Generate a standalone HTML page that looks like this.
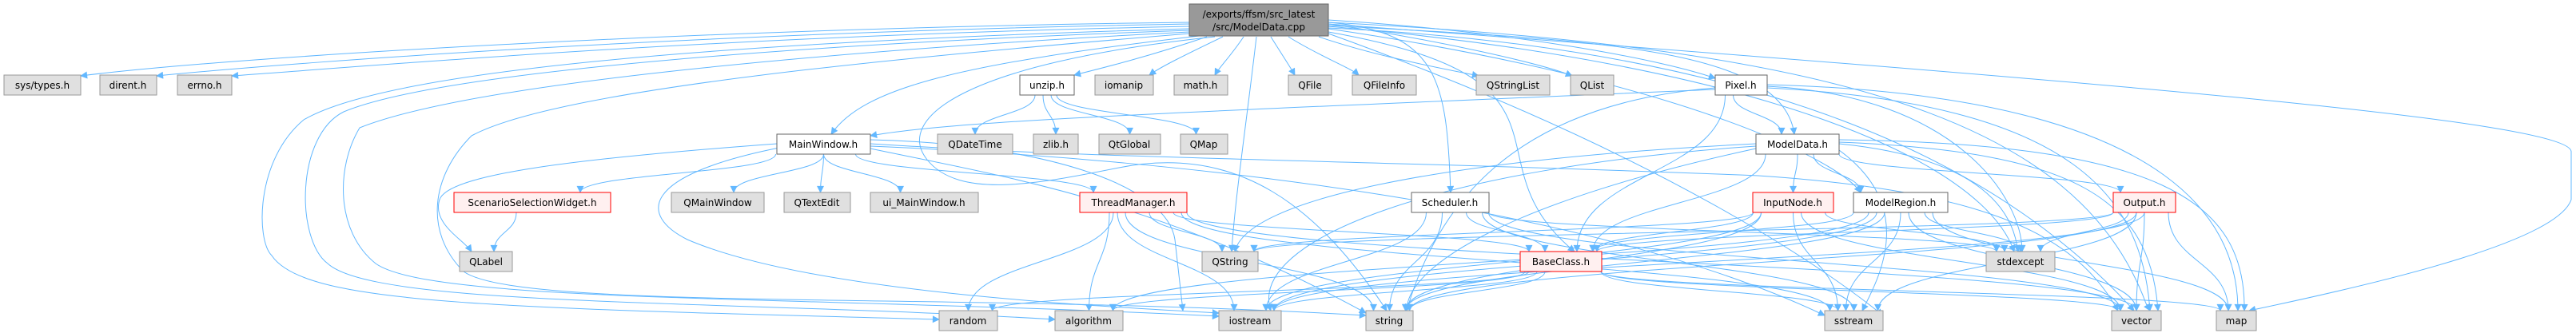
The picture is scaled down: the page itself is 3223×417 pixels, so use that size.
<!DOCTYPE html>
<html><head><meta charset="utf-8">
<style>
html,body{margin:0;padding:0;background:#fff;}
svg{display:block;}
text{font-family:"DejaVu Sans","Liberation Sans",sans-serif;font-size:12px;fill:#000;text-anchor:middle;}
.g{fill:#e0e0e0;stroke:#999;stroke-width:1;}
.w{fill:#fff;stroke:#666;stroke-width:1;}
.r{fill:#fff0f0;stroke:#f00;stroke-width:1;}
.root{fill:#999;stroke:#666;stroke-width:1;}
.e{fill:none;stroke:#63b8ff;stroke-width:1;}
</style></head><body>
<svg id="s" width="3223" height="417" viewBox="0 0 3223 417" xmlns="http://www.w3.org/2000/svg">
<defs><marker id="a" viewBox="0 0 10 10" refX="9" refY="5" markerWidth="10" markerHeight="9" markerUnits="userSpaceOnUse" orient="auto"><path d="M0,0 L10,5 L0,10 z" fill="#63b8ff"/></marker></defs>
<g id="edges"></g>
<g id="nodes">
<rect id="root" class="root" x="1488" y="5" width="174" height="40"/><text x="1575" y="22">/exports/ffsm/src_latest</text><text x="1575" y="38">/src/ModelData.cpp</text>
<rect id="systypes" class="g" x="5" y="94" width="96" height="25"/><text x="53" y="111">sys/types.h</text>
<rect id="dirent" class="g" x="125" y="94" width="71" height="25"/><text x="160" y="111">dirent.h</text>
<rect id="errno" class="g" x="222" y="94" width="68" height="25"/><text x="256" y="111">errno.h</text>
<rect id="unzip" class="w" x="1276" y="94" width="68" height="25"/><text x="1310" y="111">unzip.h</text>
<rect id="iomanip" class="g" x="1370" y="94" width="73" height="25"/><text x="1406" y="111">iomanip</text>
<rect id="math" class="g" x="1469" y="94" width="67" height="25"/><text x="1502" y="111">math.h</text>
<rect id="QFile" class="g" x="1612" y="94" width="54" height="25"/><text x="1639" y="111">QFile</text>
<rect id="QFileInfo" class="g" x="1692" y="94" width="80" height="25"/><text x="1732" y="111">QFileInfo</text>
<rect id="QStringList" class="g" x="1847" y="94" width="92" height="25"/><text x="1893" y="111">QStringList</text>
<rect id="QList" class="g" x="1965" y="94" width="54" height="25"/><text x="1992" y="111">QList</text>
<rect id="Pixel" class="w" x="2146" y="94" width="65" height="25"/><text x="2178" y="111">Pixel.h</text>
<rect id="MainWindow" class="w" x="972" y="168" width="117" height="25"/><text x="1030" y="185">MainWindow.h</text>
<rect id="QDateTime" class="g" x="1173" y="168" width="94" height="25"/><text x="1220" y="185">QDateTime</text>
<rect id="zlib" class="g" x="1293" y="168" width="56" height="25"/><text x="1321" y="185">zlib.h</text>
<rect id="QtGlobal" class="g" x="1375" y="168" width="77" height="25"/><text x="1413" y="185">QtGlobal</text>
<rect id="QMap" class="g" x="1477" y="168" width="59" height="25"/><text x="1506" y="185">QMap</text>
<rect id="ModelData" class="w" x="2197" y="168" width="104" height="25"/><text x="2249" y="185">ModelData.h</text>
<rect id="SSW" class="r" x="568" y="241" width="196" height="25"/><text x="666" y="258">ScenarioSelectionWidget.h</text>
<rect id="QMainWindow" class="g" x="840" y="241" width="116" height="25"/><text x="898" y="258">QMainWindow</text>
<rect id="QTextEdit" class="g" x="981" y="241" width="83" height="25"/><text x="1022" y="258">QTextEdit</text>
<rect id="uiMW" class="g" x="1089" y="241" width="135" height="25"/><text x="1156" y="258">ui_MainWindow.h</text>
<rect id="TM" class="r" x="1351" y="241" width="134" height="25"/><text x="1418" y="258">ThreadManager.h</text>
<rect id="Scheduler" class="w" x="1766" y="241" width="97" height="25"/><text x="1814" y="258">Scheduler.h</text>
<rect id="InputNode" class="r" x="2193" y="241" width="101" height="25"/><text x="2243" y="258">InputNode.h</text>
<rect id="ModelRegion" class="w" x="2319" y="241" width="118" height="25"/><text x="2378" y="258">ModelRegion.h</text>
<rect id="Output" class="r" x="2644" y="241" width="78" height="25"/><text x="2683" y="258">Output.h</text>
<rect id="QLabel" class="g" x="575" y="315" width="66" height="25"/><text x="608" y="332">QLabel</text>
<rect id="QString" class="g" x="1504" y="315" width="70" height="25"/><text x="1539" y="332">QString</text>
<rect id="BaseClass" class="r" x="1902" y="315" width="102" height="25"/><text x="1953" y="332">BaseClass.h</text>
<rect id="stdexcept" class="g" x="2485" y="315" width="86" height="25"/><text x="2528" y="332">stdexcept</text>
<rect id="random" class="g" x="1175" y="389" width="73" height="25"/><text x="1211" y="406">random</text>
<rect id="algorithm" class="g" x="1320" y="389" width="85" height="25"/><text x="1362" y="406">algorithm</text>
<rect id="iostream" class="g" x="1525" y="389" width="78" height="25"/><text x="1564" y="406">iostream</text>
<rect id="string" class="g" x="1709" y="389" width="59" height="25"/><text x="1738" y="406">string</text>
<rect id="sstream" class="g" x="2283" y="389" width="73" height="25"/><text x="2319" y="406">sstream</text>
<rect id="vector" class="g" x="2642" y="389" width="62" height="25"/><text x="2673" y="406">vector</text>
<rect id="map" class="g" x="2773" y="389" width="50" height="25"/><text x="2798" y="406">map</text>
</g>
</svg>
<script>
(function(){
var g=document.getElementById('edges');
function R(id){var r=document.getElementById(id);var x=+r.getAttribute('x'),y=+r.getAttribute('y'),w=+r.getAttribute('width'),h=+r.getAttribute('height');return {x:x,y:y,w:w,h:h,cx:x+w/2,b:y+h};}
function P(d){var p=document.createElementNS('http://www.w3.org/2000/svg','path');p.setAttribute('d',d);p.setAttribute('class','e');p.setAttribute('marker-end','url(#a)');g.appendChild(p);}
function E(f,t,fo,to){var a=R(f),b=R(t);var sx=a.cx+(fo||0),sy=a.b,tx=b.cx+(to||0),ty=b.y;
 if(b.y<=a.y+a.h){ // same row or above: side entry
  P('M'+sx+','+(a.y+a.h/2)+' C'+sx+','+(a.y+a.h/2)+' '+tx+','+ty+' '+tx+','+ty);return;}
 var dy=ty-sy;P('M'+sx+','+sy+' C'+sx+','+(sy+dy*0.5)+' '+tx+','+(ty-dy*0.5)+' '+tx+','+ty);}
// root long curves left
P('M1488,28 C900,35 300,70 101,95');
P('M1488,30 C900,40 400,75 196,95');
P('M1488,33 C900,45 500,80 290,95');
P('M1488,36 C1000,50 500,80 380,150 C320,200 320,300 340,320 C380,380 600,385 1175,400');
P('M1488,38 C1000,55 550,90 430,140 C370,170 370,300 410,330 C470,385 900,375 1320,400');
P('M1488,40 C1100,60 600,100 450,160 C420,210 420,290 470,330 C540,380 1000,370 1525,396');
P('M1488,42 C1150,70 700,110 590,170 C540,220 530,290 580,340 C650,390 1200,365 1709,395');
P('M1500,45 C1200,80 1080,110 1040,168');
P('M1510,46 C1440,70 1380,85 1344,94');
P('M1530,46 C1480,70 1450,85 1438,94');
P('M1556,46 C1540,70 1525,85 1520,94');
P('M1590,46 C1605,70 1615,85 1620,94');
P('M1612,46 C1650,70 1690,85 1700,94');
P('M1650,46 C1720,70 1800,85 1850,95');
P('M1662,30 C1800,50 1930,80 1967,95');
P('M1662,25 C1900,40 2080,75 2146,98');
P('M1662,32 C2000,50 2230,60 2245,168');
P('M1662,28 C1800,40 1810,100 1815,241');
P('M1572,46 C1560,150 1545,250 1541,315');
P('M1520,46 C1200,80 1120,150 1160,200 C1200,250 1300,230 1400,210 C1550,180 1650,260 1735,389');
P('M1662,30 C2600,100 3217,150 3217,190 L3217,250 C3200,300 3000,350 2814,389');
P('M1662,28 C2300,60 2600,150 2685,380 L2690,389');
P('M1662,35 C2200,60 2500,200 2670,389');
P('M1662,40 C2000,100 1830,200 1970,315');
P('M1662,36 C2100,100 2300,200 2328,241');
P('M1662,33 C2200,80 2480,200 2520,315');
P('M1662,42 C2100,200 2300,350 2356,395');
// MainWindow
E('MainWindow','SSW',-60,60);E('MainWindow','QMainWindow',0,20);E('MainWindow','QTextEdit',0,4);E('MainWindow','uiMW',0,-30);E('MainWindow','TM',40,-50);
P('M972,180 C700,200 560,220 550,250 C540,280 580,300 590,315');
P('M975,185 C800,220 800,270 860,300 C1000,360 1300,380 1525,392');
P('M1089,186 C1250,220 1450,250 1709,392');
P('M1089,180 C1400,200 1700,200 2200,220 C2500,240 2600,300 2650,389');
P('M1089,175 C1300,180 1460,230 1470,300 L1480,389');
P('M1089,183 C1500,200 2000,260 2283,395');
E('SSW','QLabel',-20,10);
E('unzip','QDateTime',-15,0);E('unzip','zlib',-5,0);E('unzip','QtGlobal',5,0);E('unzip','QMap',12,-10);
// ThreadManager
E('TM','QString',20,-10);E('TM','random',-25,0);E('TM','iostream',-20,-20);E('TM','string',-10,-20);E('TM','BaseClass',50,-40);E('TM','sstream',60,-30);E('TM','vector',67,0);E('TM','algorithm',-30,0);
// Scheduler
E('Scheduler','BaseClass',20,-20);E('Scheduler','string',-10,0);E('Scheduler','iostream',-30,20);E('Scheduler','sstream',40,0);E('Scheduler','vector',48,-20);E('Scheduler','stdexcept',48,-30);
// BaseClass
E('BaseClass','random',-40,30);E('BaseClass','algorithm',-45,30);E('BaseClass','iostream',-30,30);E('BaseClass','string',-20,25);E('BaseClass','sstream',50,-20);E('BaseClass','vector',50,-20);E('BaseClass','map',50,-20);
// Pixel
E('Pixel','ModelData',-10,-20);E('Pixel','BaseClass',-20,20);
P('M2211,108 C2450,120 2530,250 2530,315');
P('M2211,110 C2600,130 2680,250 2690,389');
P('M2211,106 C2750,120 2800,300 2800,389');
P('M2146,110 C1900,130 1800,250 1760,389');
P('M2146,112 C1500,140 1200,150 1089,170');
// ModelData
E('ModelData','InputNode',0,0);E('ModelData','ModelRegion',20,-50);E('ModelData','Output',52,-30);E('ModelData','BaseClass',-40,40);
P('M2197,180 C1800,200 1560,250 1545,315');
P('M2197,183 C1800,210 1560,300 1590,389');
P('M2197,186 C1900,250 1760,330 1760,389');
P('M2301,180 C2500,200 2520,280 2525,315');
P('M2301,178 C2600,190 2690,250 2700,389');
P('M2301,175 C2700,180 2810,250 2808,389');
P('M2301,188 C2400,260 2350,350 2330,389');
// InputNode
E('InputNode','BaseClass',-50,40);E('InputNode','sstream',0,-20);E('InputNode','stdexcept',40,-20);E('InputNode','iostream',-40,20);E('InputNode','string',-40,20);E('InputNode','vector',10,-20);E('InputNode','QString',-50,30);
// ModelRegion
E('ModelRegion','BaseClass',-59,40);E('ModelRegion','stdexcept',30,0);E('ModelRegion','sstream',0,-10);E('ModelRegion','vector',10,0);E('ModelRegion','map',40,-10);E('ModelRegion','string',-20,20);E('ModelRegion','iostream',-30,30);E('ModelRegion','algorithm',-40,30);
// Output
E('Output','stdexcept',-20,25);E('Output','sstream',-10,30);E('Output','vector',0,0);E('Output','map',30,-10);E('Output','BaseClass',-39,45);E('Output','string',-10,25);E('Output','iostream',0,30);E('Output','QString',-39,30);
})();
</script>
</body></html>
